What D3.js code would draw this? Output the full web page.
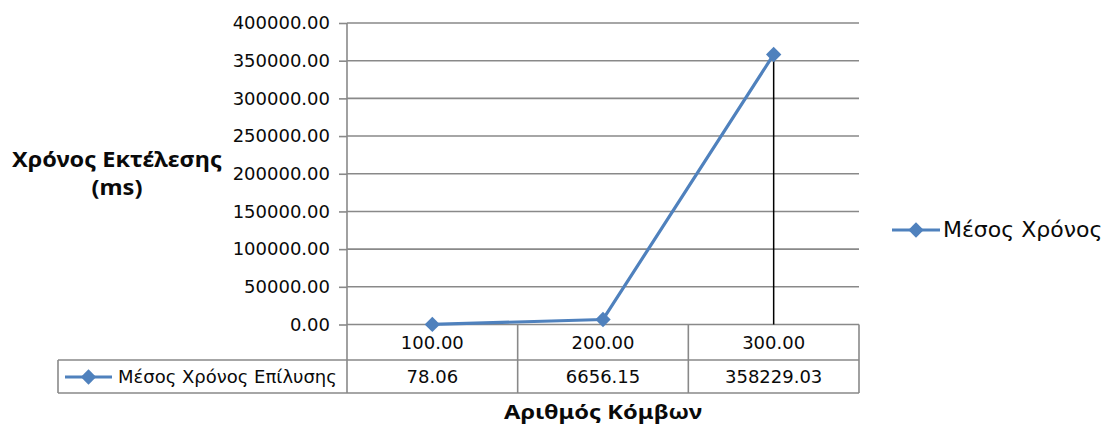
<!DOCTYPE html>
<html>
<head>
<meta charset="utf-8">
<script src="https://cdn.jsdelivr.net/npm/d3@7"></script>
<style>
  html, body { margin: 0; padding: 0; background: #fff; }
  svg { display: block; font-family: "DejaVu Sans", Verdana, sans-serif; }
</style>
</head>
<body>
<svg id="chart" width="1109" height="428"></svg>
<script>
// Chart data
const categories = ["100.00", "200.00", "300.00"];
const values = [78.06, 6656.15, 358229.03];
const valueLabels = ["78.06", "6656.15", "358229.03"];
const yTicks = [0, 50000, 100000, 150000, 200000, 250000, 300000, 350000, 400000];
const seriesName = "Μέσος Χρόνος Επίλυσης";
const legendName = "Μέσος Χρόνος";
const yTitleLines = ["Χρόνος Εκτέλεσης", "(ms)"];
const xTitle = "Αριθμός Κόμβων";

const svg = d3.select("#chart");
const blue = "#4F81BD";
const gridColor = "#898989";
const ink = "#0a0a0a";

// Plot area and data table geometry
const plotLeft = 347, plotRight = 859, plotTop = 23, plotBottom = 324.5;
const tableLeft = 58, headerBottom = 360, tableBottom = 393;

const x = d3.scaleBand().domain(categories).range([plotLeft, plotRight]);
const y = d3.scaleLinear().domain([0, 400000]).range([plotBottom, plotTop]);

// Horizontal gridlines
svg.append("g").selectAll("line").data(yTicks).join("line")
  .attr("x1", plotLeft).attr("x2", plotRight)
  .attr("y1", d => y(d)).attr("y2", d => y(d))
  .attr("stroke", gridColor).attr("stroke-width", 1.6);

// Y axis with tick marks and labels
const yAxis = svg.append("g")
  .attr("transform", `translate(${plotLeft},0)`)
  .call(d3.axisLeft(y).tickValues(yTicks).tickSize(8).tickPadding(9)
    .tickFormat(d3.format(".2f")));
yAxis.select(".domain").remove();
yAxis.selectAll(".tick line").attr("stroke", gridColor).attr("stroke-width", 1.6);
yAxis.selectAll(".tick text")
  .attr("font-size", 18).attr("fill", ink)
  .attr("font-family", "DejaVu Sans, Verdana, sans-serif");

// Vertical axis line runs down through the data table
svg.append("line")
  .attr("x1", plotLeft).attr("x2", plotLeft)
  .attr("y1", plotTop).attr("y2", tableBottom)
  .attr("stroke", gridColor).attr("stroke-width", 1.6);

// Data table grid
const table = svg.append("g").attr("stroke", gridColor).attr("stroke-width", 1.6);
const colEdges = categories.map(c => x(c) + x.bandwidth());
table.selectAll("line.col").data(colEdges).join("line").attr("class", "col")
  .attr("x1", d => d).attr("x2", d => d)
  .attr("y1", plotBottom).attr("y2", tableBottom);
table.append("line").attr("x1", tableLeft).attr("x2", plotRight)
  .attr("y1", headerBottom).attr("y2", headerBottom);
table.append("line").attr("x1", tableLeft).attr("x2", plotRight)
  .attr("y1", tableBottom).attr("y2", tableBottom);
table.append("line").attr("x1", tableLeft).attr("x2", tableLeft)
  .attr("y1", headerBottom).attr("y2", tableBottom);

// Category labels (header row)
svg.append("g").selectAll("text").data(categories).join("text")
  .attr("x", d => x(d) + x.bandwidth() / 2).attr("y", 349)
  .attr("text-anchor", "middle").attr("font-size", 18).attr("fill", ink)
  .text(d => d);

// Value row
svg.append("g").selectAll("text").data(valueLabels).join("text")
  .attr("x", (d, i) => x(categories[i]) + x.bandwidth() / 2).attr("y", 383)
  .attr("text-anchor", "middle").attr("font-size", 18).attr("fill", ink)
  .text(d => d);

// Series key inside the table
const diamond = d3.symbol().type(d3.symbolSquare).size(118);
function legendKey(g, x0, x1, yy) {
  g.append("line").attr("x1", x0).attr("x2", x1).attr("y1", yy).attr("y2", yy)
    .attr("stroke", blue).attr("stroke-width", 3.2);
  g.append("path").attr("d", diamond())
    .attr("transform", `translate(${(x0 + x1) / 2},${yy}) rotate(45)`)
    .attr("fill", blue);
}
legendKey(svg.append("g"), 65, 112, 377);
svg.append("text").attr("x", 118).attr("y", 383)
  .attr("font-size", 18).attr("fill", ink).text(seriesName);

// Drop lines from each point to the baseline
const pts = categories.map((c, i) => ({ c, v: values[i] }));
svg.append("g").selectAll("line").data(pts).join("line")
  .attr("x1", d => x(d.c) + x.bandwidth() / 2).attr("x2", d => x(d.c) + x.bandwidth() / 2)
  .attr("y1", d => y(d.v)).attr("y2", y(0))
  .attr("stroke", "#000").attr("stroke-width", 1.5);

// Series line and markers
const line = d3.line().x(d => x(d.c) + x.bandwidth() / 2).y(d => y(d.v));
svg.append("path").datum(pts).attr("d", line)
  .attr("fill", "none").attr("stroke", blue).attr("stroke-width", 3.2)
  .attr("stroke-linejoin", "round");
svg.append("g").selectAll("path").data(pts).join("path")
  .attr("d", diamond())
  .attr("transform", d => `translate(${x(d.c) + x.bandwidth() / 2},${y(d.v)}) rotate(45)`)
  .attr("fill", blue);

// Legend
legendKey(svg.append("g"), 892, 940, 230);
svg.append("text").attr("x", 943).attr("y", 237)
  .attr("font-size", 22).attr("fill", ink).text(legendName);

// Axis titles: bold, set in a condensed width
const yTitleWidths = [210, 51];
svg.append("g").selectAll("text").data(yTitleLines).join("text")
  .attr("x", 117).attr("y", (d, i) => 167 + i * 28)
  .attr("text-anchor", "middle").attr("font-weight", "bold")
  .attr("font-family", "Noto Sans, DejaVu Sans, sans-serif")
  .attr("font-size", 21).attr("fill", ink)
  .attr("textLength", (d, i) => yTitleWidths[i])
  .attr("lengthAdjust", "spacingAndGlyphs")
  .text(d => d);

svg.append("text").attr("x", (plotLeft + plotRight) / 2).attr("y", 419)
  .attr("text-anchor", "middle").attr("font-weight", "bold")
  .attr("font-family", "Noto Sans, DejaVu Sans, sans-serif")
  .attr("font-size", 20).attr("fill", ink)
  .attr("textLength", 198).attr("lengthAdjust", "spacingAndGlyphs")
  .text(xTitle);
</script>
</body>
</html>
